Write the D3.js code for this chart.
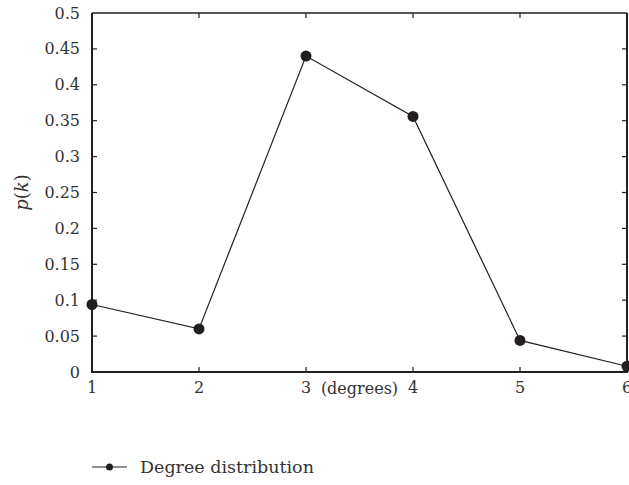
<!DOCTYPE html>
<html>
<head>
<meta charset="utf-8">
<script src="https://cdn.jsdelivr.net/npm/d3@7"></script>
<style>
  body { margin: 0; background: #fff; }
  svg { display: block; }
</style>
</head>
<body>
<script>
const degrees = [1, 2, 3, 4, 5, 6];
const probabilities = [0.094, 0.06, 0.44, 0.356, 0.044, 0.008];
const yTicks = [0, 0.05, 0.1, 0.15, 0.2, 0.25, 0.3, 0.35, 0.4, 0.45, 0.5];
const yTickLabels = ["0", "0.05", "0.1", "0.15", "0.2", "0.25", "0.3", "0.35", "0.4", "0.45", "0.5"];
const seriesName = "Degree distribution";

const width = 629;
const height = 485;
const plotLeft = 92;
const plotRight = 627;
const plotTop = 13;
const plotBottom = 372;

const ink = "#231f20";
const textInk = "#333";
const font = "DejaVu Serif";

const xScale = d3.scaleLinear().domain([1, 6]).range([plotLeft, plotRight]);
const yScale = d3.scaleLinear().domain([0, 0.5]).range([plotBottom, plotTop]);

const svg = d3
  .select("body")
  .append("svg")
  .attr("width", width)
  .attr("height", height);

// frame ticks, pointing inward on all four sides
const tickLen = 5;
const ticks = svg.append("g").attr("stroke", ink).attr("stroke-width", 1.2);

ticks
  .selectAll("line.yl")
  .data(yTicks.slice(1, -1))
  .enter()
  .append("line")
  .attr("x1", plotLeft)
  .attr("x2", plotLeft + tickLen)
  .attr("y1", (d) => yScale(d))
  .attr("y2", (d) => yScale(d));

ticks
  .selectAll("line.yr")
  .data(yTicks.slice(1, -1))
  .enter()
  .append("line")
  .attr("x1", plotRight)
  .attr("x2", plotRight - tickLen)
  .attr("y1", (d) => yScale(d))
  .attr("y2", (d) => yScale(d));

ticks
  .selectAll("line.xb")
  .data(degrees.slice(1, -1))
  .enter()
  .append("line")
  .attr("x1", (d) => xScale(d))
  .attr("x2", (d) => xScale(d))
  .attr("y1", plotBottom)
  .attr("y2", plotBottom - tickLen);

ticks
  .selectAll("line.xt")
  .data(degrees.slice(1, -1))
  .enter()
  .append("line")
  .attr("x1", (d) => xScale(d))
  .attr("x2", (d) => xScale(d))
  .attr("y1", plotTop)
  .attr("y2", plotTop + tickLen);

// frame
const frame = svg.append("g").attr("stroke", ink).attr("fill", "none");
frame
  .append("path")
  .attr("stroke-width", 1.4)
  .attr("d", `M ${plotLeft} ${plotTop} L ${plotRight} ${plotTop}`);
frame
  .append("path")
  .attr("stroke-width", 2)
  .attr(
    "d",
    `M ${plotLeft} ${plotTop} L ${plotLeft} ${plotBottom} L ${plotRight} ${plotBottom} L ${plotRight} ${plotTop}`
  );

// tick labels
svg
  .append("g")
  .selectAll("text")
  .data(yTicks)
  .enter()
  .append("text")
  .attr("x", plotLeft - 12)
  .attr("y", (d) => yScale(d))
  .attr("text-anchor", "end")
  .attr("dominant-baseline", "central")
  .attr("font-family", font)
  .attr("font-size", 16)
  .attr("fill", textInk)
  .text((_, i) => yTickLabels[i]);

svg
  .append("g")
  .selectAll("text")
  .data(degrees)
  .enter()
  .append("text")
  .attr("x", (d) => xScale(d))
  .attr("y", plotBottom + 21)
  .attr("text-anchor", "middle")
  .attr("font-family", font)
  .attr("font-size", 16)
  .attr("fill", textInk)
  .text((d) => d);

// axis titles
svg
  .append("text")
  .attr("x", (plotLeft + plotRight) / 2)
  .attr("y", plotBottom + 22)
  .attr("text-anchor", "middle")
  .attr("font-family", font)
  .attr("font-size", 16)
  .attr("fill", textInk)
  .text("(degrees)");

const yTitle = svg
  .append("text")
  .attr("transform", `translate(28 ${(plotTop + plotBottom) / 2}) rotate(-90)`)
  .attr("text-anchor", "middle")
  .attr("font-family", font)
  .attr("font-size", 18)
  .attr("fill", textInk);
yTitle.append("tspan").attr("font-style", "italic").text("p");
yTitle.append("tspan").text("(");
yTitle.append("tspan").attr("font-style", "italic").text("k");
yTitle.append("tspan").text(")");

// series
const line = d3
  .line()
  .x((d) => xScale(d[0]))
  .y((d) => yScale(d[1]));

const points = degrees.map((d, i) => [d, probabilities[i]]);

svg
  .append("path")
  .datum(points)
  .attr("fill", "none")
  .attr("stroke", ink)
  .attr("stroke-width", 1.2)
  .attr("d", line);

svg
  .append("g")
  .selectAll("circle")
  .data(points)
  .enter()
  .append("circle")
  .attr("cx", (d) => xScale(d[0]))
  .attr("cy", (d) => yScale(d[1]))
  .attr("r", 5.5)
  .attr("fill", ink);

// legend
const legend = svg.append("g").attr("transform", "translate(92 467)");
legend
  .append("line")
  .attr("x1", 0)
  .attr("x2", 35)
  .attr("stroke", ink)
  .attr("stroke-width", 1.2);
legend.append("circle").attr("cx", 17.5).attr("r", 3.5).attr("fill", ink);
legend
  .append("text")
  .attr("x", 48)
  .attr("dominant-baseline", "central")
  .attr("font-family", font)
  .attr("font-size", 17.5)
  .attr("fill", textInk)
  .text(seriesName);
</script>
</body>
</html>
